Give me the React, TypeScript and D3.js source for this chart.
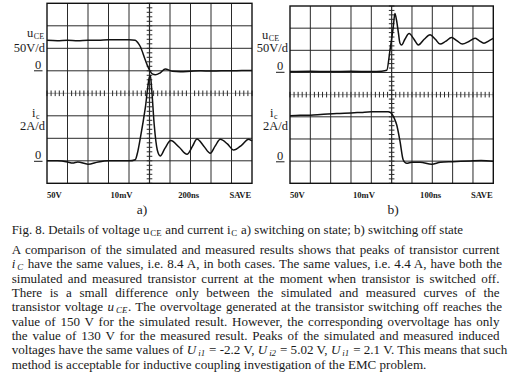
import React, { useEffect, useRef } from "react";
import * as d3 from "d3";

const W = 516;
const H = 378;

// ---------- Panel a) switching on, 200 ns/div, 50 V/div, 2 A/div ----------
const timeA_uce = [0, 100, 200, 300, 400, 500, 600, 700, 800, 861, 885, 910, 959, 991, 1027, 1057, 1105, 1154, 1222, 1300, 1400, 1500, 1600, 1700, 1800, 1900, 2000];
const uceA = [68, 67, 68, 67, 68, 68, 69, 69, 69, 68, 63, 54, 24, 5.6, -7, -9, -4.4, 4, -1, -2, -1, 0, -0.5, 0, 0, 0.5, 0.5];
const timeA_ic = [0, 100, 200, 250, 300, 400, 500, 600, 700, 800, 861, 880, 910, 959, 998, 1008, 1022, 1046, 1076, 1105, 1150, 1208, 1290, 1366, 1420, 1463, 1530, 1593, 1640, 1690, 1760, 1820, 1900, 1967, 2000];
const icA = [0, 0, -0.1, -0.2, -0.1, -0.3, -0.1, 0, 0, 0, 0.1, 0.6, 2.0, 4.7, 7.4, 7.6, 6.3, 3.2, 0.96, 0.43, 1.1, 1.8, 1.2, 0.58, 1.3, 1.94, 1.3, 0.67, 1.3, 1.91, 1.5, 0.96, 1.4, 1.91, 1.76];

// ---------- Panel b) switching off, 100 ns/div ----------
const timeB_uce = [0, 100, 200, 300, 400, 450, 476, 492, 508, 516, 524, 533, 541, 549, 565, 586, 610, 631, 660, 689, 715, 738, 765, 795, 820, 848, 880, 910, 930, 954, 980, 1000];
const uceB = [2, 3, 2, 3, 2, 3, 5, 51, 103, 133, 118, 90, 66, 62, 75, 88, 75, 62, 75, 85, 75, 64, 70, 79, 72, 64, 70, 77, 72, 66, 72, 77];
const timeB_ic = [0, 50, 100, 150, 230, 300, 350, 400, 450, 484, 500, 512, 525, 541, 557, 574, 600, 640, 697, 740, 800, 885, 940, 1000];
const icB = [4.1, 4.15, 4.15, 4.2, 4.3, 4.35, 4.4, 4.45, 4.45, 4.46, 4.3, 3.9, 3.26, 1.8, 0.1, -0.2, -0.1, -0.1, -0.28, -0.1, -0.05, 0.01, 0.05, 0];

const bottomLabelsA = ["50V", "10mV", "200ns", "SAVE"];
const bottomLabelsB = ["50V", "10mV", "100ns", "SAVE"];
const panelNames = ["a)", "b)"];
const uceScaleLabel = "50V/d";
const icScaleLabel = "2A/d";

type Seg = { t: string; it?: boolean; sub?: boolean };

const captionSegs: Seg[] = [
  { t: "Fig. 8. Details of voltage u" },
  { t: "CE", sub: true },
  { t: " and current i" },
  { t: "C", sub: true },
  { t: " a) switching on state; b) switching off state" },
];

const paragraphLines: Seg[][] = [
  [{ t: "A comparison of the simulated and measured results shows that peaks of transistor current" }],
  [{ t: "i", it: true }, { t: "C", it: true, sub: true }, { t: " have the same values, i.e. 8.4 A, in both cases. The same values, i.e. 4.4 A, have both the" }],
  [{ t: "simulated and measured transistor current at the moment when transistor is switched off." }],
  [{ t: "There is a small difference only between the simulated and measured curves of the" }],
  [{ t: "transistor voltage " }, { t: "u", it: true }, { t: "CE", it: true, sub: true }, { t: ". The overvoltage generated at the transistor switching off reaches the" }],
  [{ t: "value of 150 V for the simulated result. However, the corresponding overvoltage has only" }],
  [{ t: "the value of 130 V for the measured result. Peaks of the simulated and measured induced" }],
  [
    { t: "voltages have the same values of " },
    { t: "U", it: true }, { t: "i1", it: true, sub: true },
    { t: " = -2.2 V, " },
    { t: "U", it: true }, { t: "i2", it: true, sub: true },
    { t: " = 5.02 V, " },
    { t: "U", it: true }, { t: "i1", it: true, sub: true },
    { t: " = 2.1 V. This means that such" },
  ],
  [{ t: "method is acceptable for inductive coupling investigation of the EMC problem." }],
];

type Panel = {
  left: number; right: number; top: number; bottom: number; tMax: number;
  uT: number[]; uV: number[]; iT: number[]; iV: number[];
  bottomLabels: string[]; name: string; nameX: number;
  lab: { uX: number; uY: number; vdX: number; vdY: number; z1X: number; z1Y: number; iX: number; iY: number; adX: number; adY: number; z2X: number; z2Y: number };
};

const panels: Panel[] = [
  {
    left: 47, right: 252, top: 3.3, bottom: 183.3, tMax: 2000,
    uT: timeA_uce, uV: uceA, iT: timeA_ic, iV: icA,
    bottomLabels: bottomLabelsA, name: panelNames[0], nameX: 142,
    lab: { uX: 27, uY: 37, vdX: 45, vdY: 52, z1X: 35, z1Y: 68.5, iX: 32, iY: 117, adX: 45, adY: 130, z2X: 35, z2Y: 159 },
  },
  {
    left: 290, right: 493.3, top: 6, bottom: 183.3, tMax: 1000,
    uT: timeB_uce, uV: uceB, iT: timeB_ic, iV: icB,
    bottomLabels: bottomLabelsB, name: panelNames[1], nameX: 393,
    lab: { uX: 262, uY: 39, vdX: 288, vdY: 52, z1X: 277, z1Y: 70, iX: 270, iY: 117, adX: 288, adY: 130, z2X: 277, z2Y: 159.5 },
  },
];

const SERIF = "'Liberation Serif', 'Times New Roman', serif";
const INK = "#1a1a1a";

function addSegs(text: d3.Selection<SVGTextElement, unknown, null, undefined>, segs: Seg[]) {
  let shifted = false;
  segs.forEach((s) => {
    const ts = text.append("tspan").text(s.t);
    if (s.it) ts.attr("font-style", "italic");
    if (s.sub && !shifted) { ts.attr("dy", 1.6).attr("dx", s.it ? 2 : 0.8).attr("font-size", "0.68em"); shifted = true; }
    else if (s.sub) { ts.attr("font-size", "0.68em"); }
    else if (!s.sub && shifted) { ts.attr("dy", -1.6).attr("dx", 0.6); shifted = false; }
  });
}

function drawPanel(svg: d3.Selection<SVGSVGElement, unknown, null, undefined>, p: Panel) {
  const g = svg.append("g");
  const x = d3.scaleLinear().domain([0, p.tMax]).range([p.left, p.right]);
  const gx = d3.scaleLinear().domain([0, 10]).range([p.left, p.right]);
  const gy = d3.scaleLinear().domain([0, 8]).range([p.bottom, p.top]);
  const yU = d3.scaleLinear().domain([-250, 150]).range([p.bottom, p.top]); // 50 V/div, zero at 5th div
  const yI = d3.scaleLinear().domain([-2, 14]).range([p.bottom, p.top]); // 2 A/div, zero at 1st div

  const grid = g.append("g").attr("stroke", "#2a2a2a").attr("stroke-width", 1);
  d3.range(1, 10).forEach((i) => {
    if (i === 5) return;
    grid.append("line").attr("x1", gx(i)).attr("x2", gx(i)).attr("y1", p.top).attr("y2", p.bottom);
  });
  d3.range(1, 8).forEach((j) => {
    if (j === 4) return;
    grid.append("line").attr("x1", p.left).attr("x2", p.right).attr("y1", gy(j)).attr("y2", gy(j));
  });
  const cx = gx(5);
  const cy = gy(4);
  grid.append("line").attr("x1", cx).attr("x2", cx).attr("y1", p.top).attr("y2", p.bottom).attr("stroke-width", 1.2);
  grid.append("line").attr("x1", p.left).attr("x2", p.right).attr("y1", cy).attr("y2", cy).attr("stroke", "#777").attr("stroke-width", 0.7);
  d3.range(0, 51).forEach((k) => {
    const xx = gx(k * 0.2);
    grid.append("line").attr("x1", xx).attr("x2", xx).attr("y1", cy - 2.8).attr("y2", cy + 2.8).attr("stroke-width", 1);
  });
  d3.range(0, 41).forEach((k) => {
    const yy = gy(k * 0.2);
    grid.append("line").attr("x1", cx - 2.8).attr("x2", cx + 2.8).attr("y1", yy).attr("y2", yy).attr("stroke-width", 1);
  });
  g.append("rect").attr("x", p.left).attr("y", p.top).attr("width", p.right - p.left).attr("height", p.bottom - p.top)
    .attr("fill", "none").attr("stroke", "#111").attr("stroke-width", 1.4);

  const lineU = d3.line<number>().x((_, i) => x(p.uT[i])).y((d) => yU(d)).curve(d3.curveMonotoneX);
  const lineI = d3.line<number>().x((_, i) => x(p.iT[i])).y((d) => yI(d)).curve(d3.curveMonotoneX);
  g.append("path").attr("d", lineU(p.uV) as string).attr("fill", "none").attr("stroke", "#111").attr("stroke-width", 1.5);
  g.append("path").attr("d", lineI(p.iV) as string).attr("fill", "none").attr("stroke", "#111").attr("stroke-width", 1.5);

  const t = g.append("g").attr("font-family", SERIF).attr("fill", INK);
  const L = p.lab;
  const u = t.append("text").attr("x", L.uX).attr("y", L.uY).attr("font-size", 12.5);
  u.append("tspan").text("u");
  u.append("tspan").attr("font-size", 8).attr("dy", 1.5).attr("dx", 0.6).text("CE");
  t.append("text").attr("x", L.vdX).attr("y", L.vdY).attr("font-size", 12.5).attr("text-anchor", "end").text(uceScaleLabel);
  t.append("text").attr("x", L.z1X).attr("y", L.z1Y).attr("font-size", 12.5).text("0");
  t.append("line").attr("x1", L.z1X - 1).attr("x2", L.z1X + 7.5).attr("y1", L.z1Y + 2.3).attr("y2", L.z1Y + 2.3).attr("stroke", INK).attr("stroke-width", 1);
  const ic = t.append("text").attr("x", L.iX).attr("y", L.iY).attr("font-size", 12.5);
  ic.append("tspan").text("i");
  ic.append("tspan").attr("font-size", 8).attr("dy", 1.5).attr("dx", 0.6).text("c");
  t.append("text").attr("x", L.adX).attr("y", L.adY).attr("font-size", 12.5).attr("text-anchor", "end").text(icScaleLabel);
  t.append("text").attr("x", L.z2X).attr("y", L.z2Y).attr("font-size", 12.5).text("0");
  t.append("line").attr("x1", L.z2X - 1).attr("x2", L.z2X + 7.5).attr("y1", L.z2Y + 2.3).attr("y2", L.z2Y + 2.3).attr("stroke", INK).attr("stroke-width", 1);

  const labDivs = [0, 3.1, 6.4, 8.9];
  p.bottomLabels.forEach((s, i) => {
    t.append("text").attr("x", gx(labDivs[i])).attr("y", 197.5).attr("font-size", 8.6).attr("font-weight", "bold").text(s);
  });
  t.append("text").attr("x", p.nameX).attr("y", 213.5).attr("font-size", 13.5).attr("text-anchor", "middle").text(p.name);
}

export default function App() {
  const ref = useRef<SVGSVGElement>(null);
  useEffect(() => {
    const svg = d3.select(ref.current as SVGSVGElement);
    svg.selectAll("*").remove();
    svg.append("rect").attr("width", W).attr("height", H).attr("fill", "#fff");
    panels.forEach((p) => drawPanel(svg, p));

    const txt = svg.append("g").attr("font-family", SERIF).attr("fill", INK);
    const x0 = 11.7;
    const right = 499.5;
    const baseFs = 13;
    const cap = txt.append("text").attr("x", x0).attr("y", 234).attr("font-size", baseFs);
    addSegs(cap, captionSegs);
    const lines = paragraphLines.map((segs, i) => {
      const el = txt.append("text").attr("x", x0).attr("y", 254 + i * 14.3 + (i === paragraphLines.length - 1 ? 0.8 : 0)).attr("font-size", baseFs);
      addSegs(el, segs);
      return el;
    });
    const last = lines[lines.length - 1].node() as SVGTextElement;
    const wLast = last.getComputedTextLength();
    const fs = wLast > 0 ? baseFs * 415 / wLast : baseFs;
    cap.attr("font-size", fs);
    lines.forEach((l) => l.attr("font-size", fs));
    const justify = (el: d3.Selection<SVGTextElement, unknown, null, undefined>, segs: Seg[], target: number) => {
      const w = (el.node() as SVGTextElement).getComputedTextLength();
      const n = segs.map((s) => s.t).join("").split(" ").length - 1;
      if (w <= 0) return;
      if (target >= w) {
        if (n > 0) el.attr("word-spacing", (target - w) / n);
      } else {
        el.attr("textLength", target).attr("lengthAdjust", "spacingAndGlyphs");
      }
    };
    justify(cap, captionSegs, 463 - x0);
    lines.forEach((l, i) => {
      if (i < lines.length - 1) justify(l, paragraphLines[i], right - x0);
    });
  }, []);
  return (
    <svg ref={ref} width={W} height={H} style={{ position: "absolute", left: 0, top: 0, display: "block" }} />
  );
}
